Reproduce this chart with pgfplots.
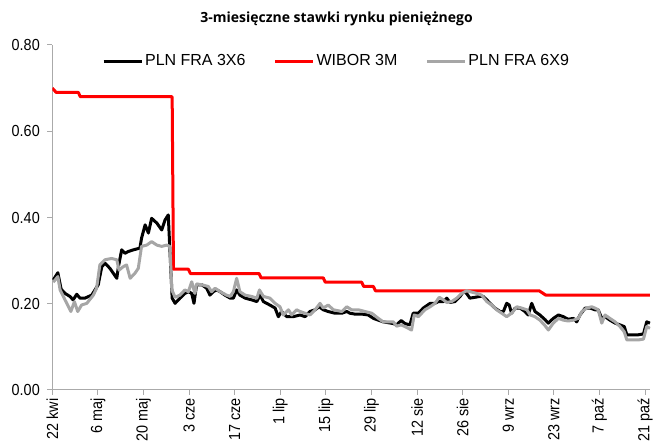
\documentclass[border=0pt]{standalone}
\usepackage{fontspec}
\setmainfont{Liberation Sans}
\newfontfamily\tickfont{Liberation Sans}[FakeStretch=0.9]
\newfontfamily\titlefont{Open Sans}
\usepackage{pgfplots}
\pgfplotsset{compat=1.18}
\definecolor{axisgray}{RGB}{170,170,170}
\definecolor{fragray}{RGB}{166,166,166}
\definecolor{wiborred}{RGB}{255,0,0}
\begin{document}
\begin{tikzpicture}
\begin{axis}[
  scale only axis, width=598pt, height=345pt,
  xmin=0, xmax=183.6, ymin=0, ymax=0.8,
  axis x line*=bottom, axis y line*=left,
  axis line style={draw=axisgray, line width=1pt, -},
  xtick={0,14,...,182},
  xticklabels={22 kwi,6 maj,20 maj,3 cze,17 cze,1 lip,15 lip,29 lip,12 sie,26 sie,9 wrz,23 wrz,7 paź,21 paź},
  ytick={0,0.2,0.4,0.6,0.8},
  /pgf/number format/assume math mode=true,
  y tick label style={/pgf/number format/fixed,/pgf/number format/fixed zerofill,/pgf/number format/precision=2, xshift=-4pt},
  x tick label style={rotate=90, anchor=east},
  tick style={draw=axisgray, line width=1pt},
  major tick length=5pt, tick align=outside,
  ticklabel style={font=\tickfont\fontsize{16}{19}\selectfont},
  legend columns=3,
  legend style={draw=none, fill=none, at={(0.4753,0.9536)}, anchor=center,
    font=\fontsize{16}{19}\selectfont,
    /tikz/every even column/.append style={column sep=26pt},
    nodes={inner sep=2pt}},
  legend image code/.code={\draw[#1] (0pt,0pt) -- (38pt,0pt);},
  line join=round,
]
\addplot[black, line width=3pt] coordinates {
(0.3,0.255)(1.7,0.272)(2.7,0.234)(3.9,0.224)(5.4,0.217)(6.4,0.209)(7.5,0.222)(8.5,0.213)(10.0,0.213)(12.1,0.220)(13.1,0.232)(14.1,0.244)(15.2,0.286)(16.2,0.294)(17.7,0.282)(18.7,0.271)(19.8,0.259)(20.3,0.286)(21.3,0.325)(22.3,0.317)(23.3,0.321)(24.9,0.325)(26.9,0.329)(27.4,0.352)(28.5,0.383)(29.5,0.364)(30.5,0.398)(32.1,0.387)(33.6,0.371)(34.6,0.394)(35.6,0.406)(36.8,0.213)(37.7,0.201)(39.2,0.213)(40.7,0.224)(41.8,0.228)(42.8,0.224)(43.5,0.201)(44.3,0.244)(45.9,0.244)(47.4,0.236)(48.4,0.220)(49.4,0.228)(50.5,0.232)(51.5,0.228)(53.0,0.220)(54.6,0.213)(55.6,0.213)(56.6,0.232)(57.6,0.220)(59.2,0.213)(61.2,0.209)(62.8,0.205)(63.8,0.220)(64.8,0.205)(66.8,0.197)(68.4,0.190)(69.4,0.170)(70.4,0.182)(72.0,0.170)(74.0,0.170)(76.1,0.174)(77.6,0.170)(79.1,0.182)(80.7,0.186)(81.9,0.193)(83.2,0.186)(84.7,0.182)(86.8,0.178)(88.9,0.178)(90.4,0.182)(91.4,0.178)(92.9,0.176)(95.0,0.176)(97.0,0.174)(98.6,0.166)(100.1,0.162)(101.6,0.158)(103.2,0.156)(104.7,0.154)(105.7,0.151)(107.1,0.161)(108.3,0.154)(109.8,0.151)(110.8,0.178)(112.4,0.178)(113.9,0.190)(116.0,0.201)(117.5,0.201)(118.5,0.205)(120.1,0.205)(121.1,0.213)(122.1,0.203)(123.6,0.205)(125.2,0.217)(126.2,0.228)(127.2,0.224)(128.2,0.213)(129.8,0.215)(131.3,0.217)(132.3,0.217)(133.4,0.209)(134.4,0.201)(135.9,0.190)(137.5,0.182)(138.5,0.182)(139.5,0.201)(140.3,0.197)(141.0,0.178)(142.1,0.190)(143.6,0.190)(145.1,0.182)(146.1,0.174)(147.2,0.201)(148.2,0.182)(149.7,0.174)(151.3,0.163)(152.3,0.155)(153.8,0.166)(155.4,0.174)(156.9,0.170)(158.4,0.164)(160.0,0.166)(161.0,0.158)(162.0,0.174)(163.6,0.190)(165.1,0.190)(166.6,0.186)(167.6,0.186)(168.7,0.166)(169.7,0.170)(171.2,0.162)(172.8,0.155)(174.3,0.151)(175.6,0.147)(176.4,0.128)(177.9,0.128)(179.9,0.128)(181.5,0.130)(182.5,0.158)(183.5,0.155)
};
\addlegendentry{PLN FRA 3X6}
\addplot[wiborred, line width=3pt] coordinates {
(0,0.70)(1.2,0.69)(8.0,0.69)(8.6,0.68)(36.8,0.68)(37.2,0.28)(41.8,0.28)(42.4,0.27)(63.5,0.27)(64.1,0.26)(83.2,0.26)(83.8,0.25)(95.0,0.25)(95.6,0.24)(98.6,0.24)(99.2,0.23)(149.5,0.23)(151.5,0.22)(183.5,0.22)
};
\addlegendentry{WIBOR 3M}
\addplot[fragray, line width=3pt] coordinates {
(0.3,0.250)(1.7,0.263)(2.4,0.232)(3.9,0.209)(5.7,0.182)(6.8,0.205)(7.8,0.182)(9.0,0.197)(10.6,0.201)(12.6,0.220)(13.6,0.236)(14.6,0.290)(16.2,0.302)(18.2,0.305)(19.8,0.302)(20.5,0.278)(21.8,0.286)(22.8,0.290)(23.9,0.259)(25.4,0.271)(26.4,0.282)(27.4,0.333)(29.0,0.336)(30.5,0.344)(32.1,0.336)(33.6,0.333)(35.1,0.336)(36.1,0.333)(36.7,0.232)(37.7,0.215)(39.2,0.220)(40.7,0.232)(41.8,0.228)(42.8,0.251)(43.8,0.224)(44.3,0.246)(45.9,0.244)(47.9,0.240)(48.9,0.228)(50.0,0.236)(51.5,0.228)(53.5,0.220)(54.6,0.217)(55.6,0.228)(56.6,0.259)(57.6,0.228)(59.2,0.220)(61.2,0.217)(62.8,0.213)(63.6,0.232)(64.8,0.217)(66.8,0.213)(68.4,0.201)(69.9,0.193)(70.9,0.174)(72.5,0.186)(73.5,0.174)(75.0,0.186)(76.1,0.182)(77.6,0.178)(79.1,0.174)(80.7,0.186)(82.2,0.201)(83.2,0.190)(84.7,0.197)(86.3,0.186)(88.9,0.182)(90.4,0.193)(91.9,0.186)(94.0,0.186)(96.0,0.182)(98.1,0.178)(100.1,0.166)(101.6,0.158)(103.2,0.158)(104.7,0.158)(105.7,0.148)(107.1,0.151)(108.3,0.147)(110.3,0.139)(111.1,0.174)(112.4,0.170)(114.4,0.186)(116.0,0.193)(117.5,0.201)(118.8,0.215)(120.1,0.209)(121.1,0.203)(122.6,0.205)(124.2,0.213)(125.7,0.224)(127.2,0.230)(128.8,0.227)(130.3,0.224)(131.8,0.220)(133.4,0.205)(134.9,0.197)(136.4,0.186)(138.0,0.178)(139.5,0.170)(141.0,0.178)(142.6,0.193)(144.1,0.190)(145.7,0.186)(146.7,0.174)(148.2,0.170)(149.7,0.162)(151.3,0.149)(152.3,0.139)(153.8,0.155)(155.4,0.166)(156.9,0.162)(158.4,0.160)(160.0,0.162)(161.5,0.166)(162.6,0.182)(164.1,0.190)(165.6,0.193)(166.6,0.190)(167.6,0.186)(168.7,0.155)(169.7,0.174)(171.2,0.166)(172.8,0.158)(174.3,0.147)(175.6,0.135)(176.4,0.116)(177.9,0.116)(179.9,0.116)(181.5,0.118)(182.5,0.147)(183.5,0.143)
};
\addlegendentry{PLN FRA 6X9}
\end{axis}
\node[font=\titlefont\bfseries\fontsize{14}{17}\selectfont] at (284.2pt,371pt) {3-miesięczne stawki rynku pieniężnego};
\pgfresetboundingbox
\useasboundingbox (-52.3pt,-53pt) rectangle (603.7pt,390pt);
\end{tikzpicture}
\end{document}
